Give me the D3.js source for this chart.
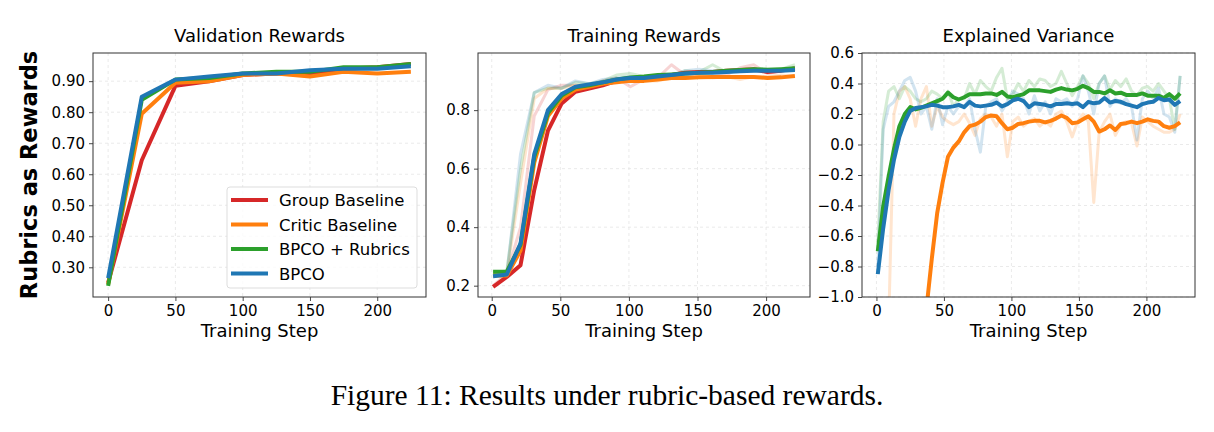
<!DOCTYPE html>
<html><head><meta charset="utf-8">
<script src="https://cdn.jsdelivr.net/npm/d3@7"></script>
<style>
body{margin:0;background:#fff;}
text{font-family:"DejaVu Sans",sans-serif;fill:#000;}
</style></head><body>
<svg id="c" width="1214" height="432"></svg>
<script>
// ---------- DATA ----------
const seriesNames = ["Group Baseline","Critic Baseline","BPCO + Rubrics","BPCO"];
const seriesColors = ["#d62728","#ff7f0e","#2ca02c","#1f77b4"];

// Panel 1: Validation Rewards
const valSteps = [0,25,50,75,100,125,150,175,200,225];
const valGroup  = [0.250,0.645,0.885,0.900,0.920,0.925,0.925,0.940,0.945,0.955];
const valCritic = [0.245,0.795,0.895,0.900,0.920,0.925,0.915,0.930,0.925,0.930];
const valRubric = [0.240,0.840,0.905,0.910,0.925,0.930,0.930,0.945,0.945,0.955];
const valBPCO   = [0.265,0.850,0.905,0.915,0.925,0.925,0.935,0.940,0.940,0.948];
const valTicks = [0.30,0.40,0.50,0.60,0.70,0.80,0.90];

// Panel 2: Training Rewards (smoothed + raw)
const trSteps = [1,11,21,31,41,51,61,71,81,91,101,111,121,131,141,151,161,171,181,191,201,211,221];
const trGroup  = [0.196,0.230,0.270,0.527,0.730,0.823,0.863,0.874,0.885,0.900,0.905,0.910,0.915,0.920,0.928,0.930,0.930,0.935,0.937,0.940,0.930,0.935,0.942];
const trCritic = [0.235,0.235,0.320,0.620,0.780,0.840,0.870,0.880,0.890,0.895,0.900,0.900,0.905,0.910,0.910,0.912,0.913,0.913,0.913,0.913,0.910,0.912,0.917];
const trRubric = [0.248,0.248,0.340,0.640,0.790,0.850,0.878,0.885,0.895,0.905,0.912,0.915,0.920,0.922,0.925,0.928,0.930,0.935,0.937,0.940,0.938,0.940,0.943];
const trBPCO   = [0.232,0.238,0.345,0.650,0.800,0.855,0.880,0.888,0.895,0.905,0.910,0.910,0.915,0.920,0.925,0.928,0.928,0.930,0.933,0.935,0.935,0.935,0.937];
const trGroupRaw  = [0.200,0.240,0.400,0.780,0.870,0.885,0.885,0.880,0.900,0.910,0.880,0.905,0.910,0.955,0.920,0.925,0.930,0.920,0.945,0.955,0.925,0.935,0.945];
const trCriticRaw = [0.240,0.240,0.550,0.840,0.875,0.875,0.885,0.885,0.890,0.905,0.905,0.900,0.900,0.910,0.910,0.915,0.910,0.915,0.905,0.915,0.915,0.920,0.915];
const trRubricRaw = [0.245,0.250,0.600,0.860,0.875,0.875,0.895,0.890,0.900,0.920,0.925,0.915,0.915,0.920,0.935,0.930,0.955,0.930,0.935,0.940,0.940,0.940,0.955];
const trBPCORaw   = [0.230,0.240,0.650,0.860,0.885,0.875,0.900,0.890,0.905,0.910,0.915,0.910,0.920,0.915,0.935,0.940,0.935,0.935,0.940,0.935,0.935,0.935,0.945];
const trTicks = [0.2,0.4,0.6,0.8];

// Panel 3: Explained Variance (smoothed + raw), no Group Baseline
const evSteps = [1,5,9,13,17,21,25,29,33,37,41,45,49,53,57,61,65,69,73,77,81,85,89,93,97,101,105,109,113,117,121,125,129,133,137,141,145,149,153,157,161,165,169,173,177,181,185,189,193,197,201,205,209,213,217,221,225];
const evCritic = [-6.0,-5.0,-4.2,-3.5,-2.9,-2.4,-2.0,-1.65,-1.35,-1.08,-0.75,-0.45,-0.25,-0.08,-0.02,0.02,0.08,0.12,0.13,0.15,0.18,0.19,0.185,0.14,0.10,0.11,0.135,0.14,0.15,0.155,0.155,0.145,0.155,0.17,0.19,0.175,0.14,0.145,0.165,0.185,0.15,0.085,0.10,0.125,0.095,0.135,0.14,0.15,0.14,0.15,0.165,0.155,0.15,0.12,0.11,0.12,0.145];
const evRubric = [-0.70,-0.405,-0.21,-0.03,0.12,0.20,0.245,0.23,0.24,0.255,0.27,0.285,0.30,0.34,0.31,0.295,0.31,0.33,0.33,0.33,0.335,0.335,0.325,0.345,0.315,0.31,0.32,0.33,0.355,0.355,0.355,0.35,0.345,0.36,0.37,0.36,0.355,0.365,0.385,0.37,0.345,0.345,0.335,0.355,0.335,0.34,0.325,0.325,0.325,0.335,0.32,0.32,0.32,0.305,0.33,0.30,0.335];
const evBPCO   = [-0.85,-0.55,-0.30,-0.10,0.05,0.15,0.22,0.24,0.245,0.25,0.26,0.255,0.245,0.245,0.25,0.26,0.245,0.28,0.255,0.25,0.255,0.26,0.275,0.25,0.265,0.29,0.30,0.285,0.245,0.27,0.265,0.26,0.25,0.265,0.265,0.27,0.265,0.27,0.245,0.28,0.27,0.275,0.305,0.275,0.285,0.28,0.265,0.255,0.245,0.265,0.275,0.28,0.305,0.29,0.295,0.26,0.285];
const evCriticRaw = [-5.0,-3.0,-1.2,0.20,0.35,0.38,0.30,0.12,0.30,0.38,0.12,0.25,0.18,0.15,0.13,0.15,0.20,0.14,0.06,0.17,0.20,0.18,0.12,0.20,-0.08,0.15,0.18,0.12,0.15,0.17,0.12,0.15,0.12,0.20,0.22,0.15,0.05,0.15,0.20,0.15,-0.38,0.08,0.15,0.20,0.06,0.13,0.15,0.14,-0.01,0.18,0.15,0.12,0.10,0.08,0.08,0.10,0.20];
const evRubricRaw = [-0.65,0.15,0.35,0.38,0.30,0.38,0.35,0.30,0.28,0.30,0.35,0.33,0.30,0.35,0.25,0.30,0.30,0.40,0.33,0.42,0.38,0.35,0.44,0.50,0.30,0.33,0.40,0.35,0.42,0.38,0.43,0.42,0.38,0.40,0.48,0.40,0.32,0.38,0.45,0.40,0.30,0.40,0.45,0.36,0.42,0.38,0.43,0.35,0.32,0.37,0.38,0.35,0.40,0.35,0.30,0.10,0.45];
const evBPCORaw   = [-0.80,0.10,0.25,0.28,0.35,0.42,0.44,0.35,0.20,0.25,0.10,0.30,0.13,0.25,0.20,0.25,0.25,0.30,0.10,-0.05,0.25,0.28,0.30,0.22,0.28,0.35,0.33,0.30,0.20,0.32,0.22,0.28,0.20,0.30,0.28,0.30,0.25,0.30,0.45,0.35,0.20,0.40,0.45,0.25,0.30,0.27,0.30,0.25,0.03,0.30,0.35,0.30,0.37,0.20,0.18,0.08,0.45];
const evTicks = [-1.0,-0.8,-0.6,-0.4,-0.2,0.0,0.2,0.4,0.6];

const xTicks = [0,50,100,150,200];

// ---------- DRAW ----------
const svg = d3.select("#c");
const fmtMinus = s => s.replace("-", "\u2212");

function panel(opts){
  const {left,right,top,bottom,xDom,yDom,title,yTicks,yFmt,smooth,raw,steps,id} = opts;
  const x = d3.scaleLinear().domain(xDom).range([left,right]);
  const y = d3.scaleLinear().domain(yDom).range([bottom,top]);
  const g = svg.append("g");
  g.append("clipPath").attr("id",id).append("rect")
    .attr("x",left).attr("y",top).attr("width",right-left).attr("height",bottom-top);
  // grid
  g.append("g").selectAll("line").data(xTicks).join("line")
    .attr("x1",d=>x(d)).attr("x2",d=>x(d)).attr("y1",top).attr("y2",bottom)
    .attr("stroke","#e4e4e4").attr("stroke-width",0.8).attr("stroke-dasharray","3,3");
  g.append("g").selectAll("line").data(yTicks).join("line")
    .attr("x1",left).attr("x2",right).attr("y1",d=>y(d)).attr("y2",d=>y(d))
    .attr("stroke","#e4e4e4").attr("stroke-width",0.8).attr("stroke-dasharray","3,3");
  const line = d3.line().x((d,i)=>x(steps[i])).y(d=>y(d));
  const lines = g.append("g").attr("clip-path",`url(#${id})`);
  raw.forEach(s=>{ if(!s) return;
    lines.append("path").attr("d",line(s.v)).attr("fill","none")
      .attr("stroke",s.c).attr("stroke-opacity",0.2).attr("stroke-width",3)
      .attr("stroke-linejoin","round");
  });
  smooth.forEach(s=>{ if(!s) return;
    lines.append("path").attr("d",line(s.v)).attr("fill","none")
      .attr("stroke",s.c).attr("stroke-width",4)
      .attr("stroke-linejoin","round").attr("stroke-linecap","butt");
  });
  // axes
  const ax = g.append("g").attr("transform",`translate(0,${bottom})`)
    .call(d3.axisBottom(x).tickValues(xTicks).tickSize(4).tickPadding(4).tickFormat(d3.format("d")));
  const ay = g.append("g").attr("transform",`translate(${left},0)`)
    .call(d3.axisLeft(y).tickValues(yTicks).tickSize(4).tickPadding(4).tickFormat(yFmt));
  [ax,ay].forEach(a=>{
    a.select(".domain").remove();
    a.selectAll("line").attr("stroke","#333").attr("stroke-width",0.9);
    a.selectAll("text").attr("font-size",15).attr("font-family","DejaVu Sans").attr("fill","#111");
  });
  g.append("rect").attr("x",left).attr("y",top).attr("width",right-left).attr("height",bottom-top)
    .attr("fill","none").attr("stroke","#333").attr("stroke-width",1);
  g.append("text").attr("x",(left+right)/2).attr("y",42).attr("text-anchor","middle")
    .attr("font-size",18).text(title);
  g.append("text").attr("x",(left+right)/2).attr("y",337).attr("text-anchor","middle")
    .attr("font-size",18).text("Training Step");
  return {x,y,g};
}

const f2 = d3.format(".2f");
const f1 = d=>fmtMinus(d3.format(".1f")(d));

panel({id:"cp1",left:93,right:426,top:53,bottom:297,xDom:[-11.25,236.25],yDom:[0.2043,0.9908],
  title:"Validation Rewards",yTicks:valTicks,yFmt:f2,steps:valSteps,raw:[],
  smooth:[{v:valGroup,c:seriesColors[0]},{v:valCritic,c:seriesColors[1]},{v:valRubric,c:seriesColors[2]},{v:valBPCO,c:seriesColors[3]}]});

panel({id:"cp2",left:478,right:810,top:53,bottom:297,xDom:[-10,232],yDom:[0.1613,0.9953],
  title:"Training Rewards",yTicks:trTicks,yFmt:d3.format(".1f"),steps:trSteps,
  raw:[{v:trGroupRaw,c:seriesColors[0]},{v:trCriticRaw,c:seriesColors[1]},{v:trRubricRaw,c:seriesColors[2]},{v:trBPCORaw,c:seriesColors[3]}],
  smooth:[{v:trGroup,c:seriesColors[0]},{v:trCritic,c:seriesColors[1]},{v:trRubric,c:seriesColors[2]},{v:trBPCO,c:seriesColors[3]}]});

panel({id:"cp3",left:862,right:1195,top:53,bottom:297,xDom:[-10.7,236],yDom:[-1.0,0.6],
  title:"Explained Variance",yTicks:evTicks,yFmt:f1,steps:evSteps,
  raw:[{v:evCriticRaw,c:seriesColors[1]},{v:evRubricRaw,c:seriesColors[2]},{v:evBPCORaw,c:seriesColors[3]}],
  smooth:[{v:evCritic,c:seriesColors[1]},{v:evRubric,c:seriesColors[2]},{v:evBPCO,c:seriesColors[3]}]});

// y-axis label
svg.append("text").attr("transform","translate(37,175) rotate(-90)").attr("text-anchor","middle")
  .attr("font-size",22.5).attr("font-weight","bold").text("Rubrics as Rewards");

// legend
const lg = svg.append("g");
lg.append("rect").attr("x",227).attr("y",187).attr("width",190).attr("height",101).attr("rx",3)
  .attr("fill","#fff").attr("fill-opacity",0.8).attr("stroke","#ddd").attr("stroke-width",1);
seriesNames.forEach((n,i)=>{
  const yy = 200 + i*24.5;
  lg.append("line").attr("x1",231).attr("x2",268).attr("y1",yy).attr("y2",yy)
    .attr("stroke",seriesColors[i]).attr("stroke-width",4);
  lg.append("text").attr("x",279).attr("y",yy+6).attr("font-size",16.5).text(n);
});

// caption
svg.append("text").attr("x",607).attr("y",405).attr("text-anchor","middle")
  .style("font-family","'Liberation Serif',serif").attr("font-size",29.5)
  .text("Figure 11: Results under rubric-based rewards.");
</script>
</body></html>
